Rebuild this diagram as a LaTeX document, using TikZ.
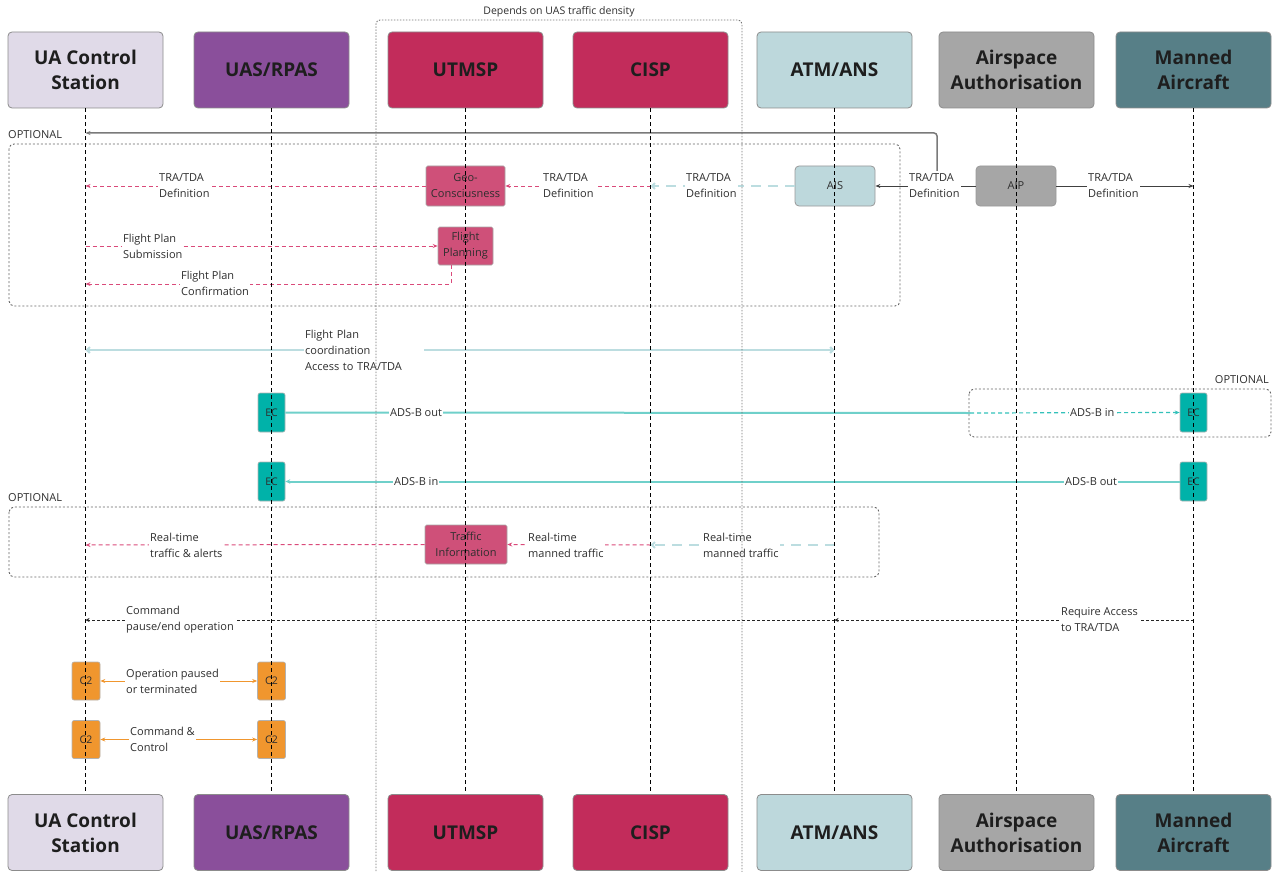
\documentclass[tikz,border=0pt]{standalone}
\usepackage{fontspec}
\setmainfont{Open Sans}
\usetikzlibrary{arrows.meta}
\definecolor{txt}{HTML}{2E2E2E}
\definecolor{hdtxt}{HTML}{1E1E1E}
\definecolor{hdb}{HTML}{8C8C8C}
\definecolor{cUA}{HTML}{E0DAE8}
\definecolor{cUAS}{HTML}{8A4F9B}
\definecolor{cUTM}{HTML}{C22C5B}
\definecolor{cATM}{HTML}{BDD8DC}
\definecolor{cAIR}{HTML}{A6A6A6}
\definecolor{cMAN}{HTML}{577F87}
\definecolor{cPink}{HTML}{CF5079}
\definecolor{cCrim}{HTML}{DA4A7A}
\definecolor{cLB}{HTML}{BCDDE0}
\definecolor{cEC}{HTML}{00B2A9}
\definecolor{cTealL}{HTML}{6FD0CA}
\definecolor{cOr}{HTML}{F0962E}
\definecolor{cGreyL}{HTML}{7A7A7A}
\begin{document}
\begin{tikzpicture}[x=1pt,y=-1pt,
  head/.style={draw=hdb, line width=0.8pt, rounded corners=4pt, minimum width=155pt, minimum height=76pt, inner sep=0pt, align=center, text=hdtxt, font=\fontsize{19}{25}\selectfont\bfseries},
  abox/.style={draw=black!40, line width=0.8pt, rounded corners=4pt, minimum width=80pt, minimum height=40pt, inner sep=0pt, align=center, text=txt, font=\fontsize{11}{15}\selectfont},
  pbox/.style={fill=cPink, draw=black!35, line width=0.6pt, rounded corners=1.5pt, inner sep=0pt, align=center, text=txt, font=\fontsize{11}{16}\selectfont},
  ecbox/.style={fill=cEC, draw=black!30, line width=0.6pt, rounded corners=2pt, minimum width=27pt, minimum height=39pt, inner sep=0pt, text=txt, font=\fontsize{10.5}{12}\selectfont},
  c2box/.style={fill=cOr, draw=black!30, line width=0.6pt, rounded corners=2pt, minimum width=28pt, minimum height=38pt, inner sep=0pt, text=txt, font=\fontsize{10.5}{12}\selectfont},
  msg/.style={fill=white, inner sep=1pt, anchor=west, align=left, text=txt, font=\fontsize{11}{16}\selectfont},
  crim/.style={draw=cCrim, line width=1pt, dash pattern=on 4pt off 3pt, -{Stealth[length=5pt,width=4pt]}},
  lbdash/.style={draw=cLB, line width=2pt, dash pattern=on 10pt off 7pt, -{Straight Barb[length=3pt,width=6pt]}},
  lbsolid/.style={draw=cLB, line width=2pt, {Straight Barb[length=3pt,width=6pt]}-{Straight Barb[length=3pt,width=6pt]}},
  tealsolid/.style={draw=cTealL, line width=2pt},
  tealdash/.style={draw=cEC!80, line width=1.2pt, dash pattern=on 4pt off 3pt, -{Stealth[length=5pt,width=4pt]}},
  dkarrow/.style={draw=black!75, line width=1pt, -{Stealth[length=5pt,width=4pt]}},
  blkdash/.style={draw=black!85, line width=0.9pt, dash pattern=on 3pt off 2pt, -{Stealth[length=4pt,width=4pt]}},
  orng/.style={draw=cOr, line width=1pt, {Stealth[length=5pt,width=4pt]}-{Stealth[length=5pt,width=4pt]}},
  life/.style={draw=black, line width=0.8pt, dash pattern=on 4pt off 3pt},
  optbox/.style={draw=black!60, line width=0.9pt, dash pattern=on 2pt off 2pt, rounded corners=5pt},
  optlbl/.style={inner sep=0pt, text=txt, font=\fontsize{11}{13}\selectfont}
]
\useasboundingbox (0,0) rectangle (1272,872);

% headers
\node[head, fill=cUA]  (h1) at (85.5,70) {UA Control\\Station};
\node[head, fill=cUAS] (h2) at (271.5,70) {UAS/RPAS};
\node[head, fill=cUTM] (h3) at (465.5,70) {UTMSP};
\node[head, fill=cUTM] (h4) at (650.5,70) {CISP};
\node[head, fill=cATM] (h5) at (834.5,70) {ATM/ANS};
\node[head, fill=cAIR] (h6) at (1016.5,70) {Airspace\\Authorisation};
\node[head, fill=cMAN] (h7) at (1193.5,70) {Manned\\Aircraft};
\node[head, fill=cUA]  (f1) at (85.5,832.5) {UA Control\\Station};
\node[head, fill=cUAS] (f2) at (271.5,832.5) {UAS/RPAS};
\node[head, fill=cUTM] (f3) at (465.5,832.5) {UTMSP};
\node[head, fill=cUTM] (f4) at (650.5,832.5) {CISP};
\node[head, fill=cATM] (f5) at (834.5,832.5) {ATM/ANS};
\node[head, fill=cAIR] (f6) at (1016.5,832.5) {Airspace\\Authorisation};
\node[head, fill=cMAN] (f7) at (1193.5,832.5) {Manned\\Aircraft};

% optional boxes
\node[optlbl, anchor=west] (opt1) at (8,135) {OPTIONAL};
\draw[optbox] (9,144) rectangle (900,306);
\node[optlbl, anchor=east] (opt2) at (1269,380) {OPTIONAL};
\draw[optbox] (969,389) rectangle (1271,437);
\node[optlbl, anchor=west] (opt3) at (8,498) {OPTIONAL};
\draw[optbox] (9,507) rectangle (879,577);

% activity boxes
\node[abox, fill=cAIR] (aip) at (1016,186) {AIP};
\node[abox, fill=cATM] (ais) at (835,186) {AIS};
\node[pbox, minimum width=79pt, minimum height=40pt] (geo) at (465.5,186) {Geo-\\Consciusness};
\node[pbox, minimum width=55pt, minimum height=38pt] (fp) at (465.5,246) {Flight\\Planning};
\node[pbox, minimum width=82pt, minimum height=39pt] (ti) at (466,544.5) {Traffic\\Information};
\node[ecbox] (ec1) at (271.5,412.5) {EC};
\node[ecbox] (ec2) at (1193.5,412.5) {EC};
\node[ecbox] (ec3) at (271.5,481.5) {EC};
\node[ecbox] (ec4) at (1193.5,481.5) {EC};
\node[c2box] (c1) at (86,681) {C2};
\node[c2box] (c2) at (271.5,681) {C2};
\node[c2box] (c3) at (86,739.5) {C2};
\node[c2box] (c4) at (271.5,739.5) {C2};

% TRA/TDA definition row
\draw[dkarrow] (aip.west) -- (ais.east);
\node[msg] (l1) at (908,186) {TRA/TDA\\Definition};
\draw[dkarrow] (aip.east) -- (h7 |- 0,186);
\node[msg] (l2) at (1087,186) {TRA/TDA\\Definition};
\coordinate (br) at (937,171);
\draw[draw=cGreyL, line width=1.5pt, rounded corners=3pt, -{Stealth[length=5pt,width=4pt]}]
  (br) -- (937,133) -- (h1 |- 0,133);
\draw[lbdash] (ais.west) -- (h4 |- 0,186);
\node[msg] (l3) at (685,186) {TRA/TDA\\Definition};
\draw[crim] (h4 |- 0,186) -- (geo.east);
\node[msg] (l4) at (542,186) {TRA/TDA\\Definition};
\draw[crim] (geo.west) -- (h1 |- 0,186);
\node[msg] (l5) at (158,186) {TRA/TDA\\Definition};

% flight plan
\draw[crim] (h1 |- 0,246) -- (fp.west);
\node[msg] (l6) at (122,246) {Flight Plan\\Submission};
\draw[crim] (451,265) -- (451,284) -- (h1 |- 0,284);
\node[msg] (l7) at (180,283) {Flight Plan\\Confirmation};

% coordination
\draw[lbsolid] (h1 |- 0,350) -- (h5 |- 0,350);
\node[msg, inner xsep=1pt, text width=118pt] (l8) at (304,350) {Flight Plan\\coordination\\Access to TRA/TDA};

% ADS-B
\coordinate (tsw) at (970,413);
\draw[tealsolid] (ec1.east) -- (tsw);
\draw[tealdash] (tsw) -- (ec2.west);
\node[msg] (l9) at (389,413) {ADS-B out};
\node[msg] (l10) at (1069,413) {ADS-B in};
\draw[tealsolid, -{Stealth[length=5pt,width=4.5pt]}] (ec4.west) -- (ec3.east);
\node[msg] (l11) at (393,482) {ADS-B in};
\node[msg] (l12) at (1064,482) {ADS-B out};

% real-time traffic
\draw[lbdash] (h5 |- 0,545) -- (h4 |- 0,545);
\node[msg] (l13) at (702,545) {Real-time\\manned traffic};
\draw[crim] (h4 |- 0,545) -- (ti.east);
\node[msg] (l14) at (527,545) {Real-time\\manned traffic};
\draw[crim] (ti.west) -- (h1 |- 0,545);
\node[msg] (l15) at (149,545) {Real-time\\traffic \& alerts};

% command pause
\draw[blkdash] (h7 |- 0,620) -- (h5 |- 0,620);
\node[msg] (l16) at (1060,620) {Require Access\\to TRA/TDA};
\draw[blkdash] (h5 |- 0,620) -- (h1 |- 0,620);
\node[msg] (l17) at (125,620) {Command\\pause/end operation};

% C2
\draw[orng] (c1.east) -- (c2.west);
\node[msg] (l18) at (125,681) {Operation paused\\or terminated};
\draw[orng] (c3.east) -- (c4.west);
\node[msg] (l19) at (129,739.5) {Command \&\\Control};

% traffic density region (drawn over the messages)
\draw[draw=black!55, line width=0.9pt, dash pattern=on 1.5pt off 1.5pt, rounded corners=4pt]
  (376,880) -- (376,20) -- (742,20) -- (742,880);
\node[optlbl, font=\fontsize{10.5}{12}\selectfont] (dep) at (559,12) {Depends on UAS traffic density};

% lifelines
\foreach \i in {1,...,7} {
  \draw[life] (h\i.south) -- (f\i.north);
}
\end{tikzpicture}
\end{document}
